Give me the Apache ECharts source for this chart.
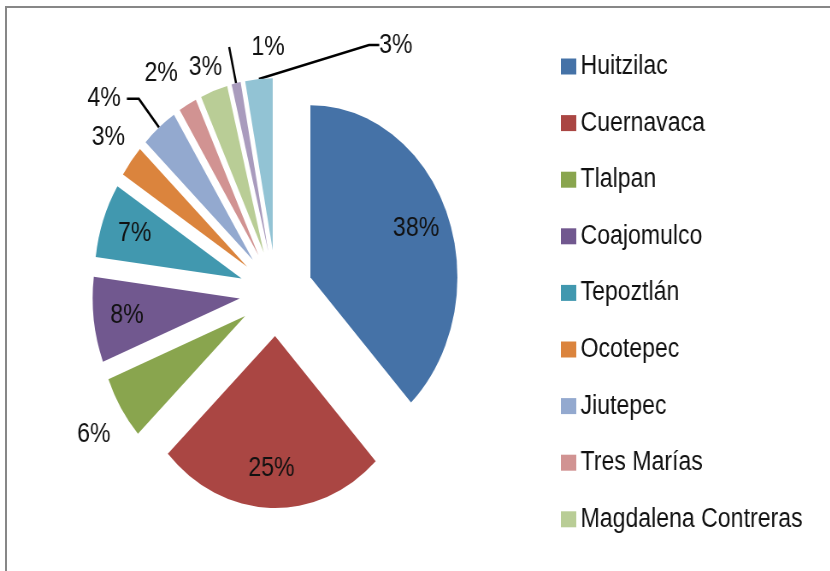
<!DOCTYPE html>
<html>
<head>
<meta charset="utf-8">
<title>Pie</title>
<script src="https://cdn.jsdelivr.net/npm/echarts@6/dist/echarts.min.js"></script>
<style>
  html, body { margin: 0; padding: 0; overflow: hidden; background: #fff; }
  #frame {
    position: absolute; left: 5px; top: 6px; width: 900px; height: 600px;
    border-left: 2px solid #878787; border-top: 2px solid #878787;
  }
  /* the original picture is narrower than it is tall, so the chart is squeezed sideways */
  #chart {
    position: absolute; left: 0; top: 0; width: 971px; height: 571px;
    transform: scaleX(0.855); transform-origin: 0 0;
  }
</style>
</head>
<body>
<div id="frame"></div>
<div id="chart"></div>
<script>
var names = ['Huitzilac', 'Cuernavaca', 'Tlalpan', 'Coajomulco', 'Tepoztlán', 'Ocotepec',
  'Jiutepec', 'Tres Marías', 'Magdalena Contreras', 'Otros 1', 'Otros 2'];
var values = [38, 25, 6, 8, 7, 3, 4, 2, 3, 1, 3];
var legendNames = names.slice(0, 9);

var colors = ['#4572a7', '#aa4643', '#89a54e', '#71588f', '#4198af', '#db843d',
  '#93a9cf', '#d19392', '#b9cd96', '#a99bbd', '#92c3d4'];
var font = 'Liberation Sans';

// big slices get their label inside, the rest outside
var innerIdx = [0, 1, 3, 4];
var outer = {
  2: {len: 50, len2: 0, dist: -30, line: false},
  5: {len: 39, len2: 0, dist: -24, line: false},
  6: {len: 37, len2: 14, dist: 7, line: true},
  7: {len: 36, len2: 0, dist: -6, line: false},
  8: {len: 25, len2: 0, dist: -18, line: false},
  9: {len: 37, len2: 0, dist: -65, line: true},
  10: {len: 34, len2: 12, dist: -195, line: true}
};
// this label sits far to the right, its line is redrawn from the label back to the slice
var redrawLine = [10];

var pieData = values.map(function (v, i) {
  var o = outer[i];
  return {
    name: names[i],
    value: v,
    selected: true,
    itemStyle: {color: colors[i]},
    label: {show: !!o, distanceToLabelLine: o ? o.dist : 5},
    labelLine: {show: o ? o.line : false, length: o ? o.len : 10, length2: o ? o.len2 : 0}
  };
});

// transparent copy of the pie, only used to put the inner labels further out
var labelData = values.map(function (v, i) {
  return {
    name: names[i],
    value: v,
    selected: true,
    label: {show: innerIdx.indexOf(i) >= 0}
  };
});

var center = [323, 293];

var option = {
  animation: false,
  legend: {
    data: legendNames,
    orient: 'vertical',
    left: 651,
    top: 48,
    icon: 'rect',
    itemWidth: 18,
    itemHeight: 16,
    itemGap: 29.6,
    selectedMode: false,
    textStyle: {fontSize: 27, color: '#111', fontFamily: font}
  },
  series: [
    {
      name: 'main',
      type: 'pie',
      center: center,
      radius: 172,
      startAngle: 90,
      selectedMode: 'multiple',
      selectedOffset: 43,
      avoidLabelOverlap: false,
      emphasis: {disabled: true},
      itemStyle: {borderWidth: 0},
      label: {position: 'outside', formatter: '{c}%', fontSize: 27, color: '#111', fontFamily: font},
      labelLine: {lineStyle: {color: '#000', width: 2.5}},
      labelLayout: function (p) {
        if (redrawLine.indexOf(p.dataIndex) < 0) return;
        // keep the label where it is, only ask for a new guide line
        var r = p.labelRect;
        var x = p.align === 'left' ? r.x : (p.align === 'center' ? r.x + r.width / 2 : r.x + r.width);
        var y = p.verticalAlign === 'top' ? r.y : (p.verticalAlign === 'bottom' ? r.y + r.height : r.y + r.height / 2);
        return {x: x, y: y};
      },
      data: pieData
    },
    {
      name: 'labels',
      type: 'pie',
      silent: true,
      center: center,
      radius: [88, 172],
      startAngle: 90,
      selectedMode: 'multiple',
      selectedOffset: 43,
      avoidLabelOverlap: false,
      emphasis: {disabled: true},
      itemStyle: {color: 'rgba(0,0,0,0)'},
      label: {position: 'inside', formatter: '{c}%', fontSize: 27, color: '#111', fontFamily: font},
      labelLine: {show: false},
      data: labelData
    }
  ]
};

var myChart = echarts.init(document.getElementById('chart'));
myChart.setOption(option);
</script>
</body>
</html>
